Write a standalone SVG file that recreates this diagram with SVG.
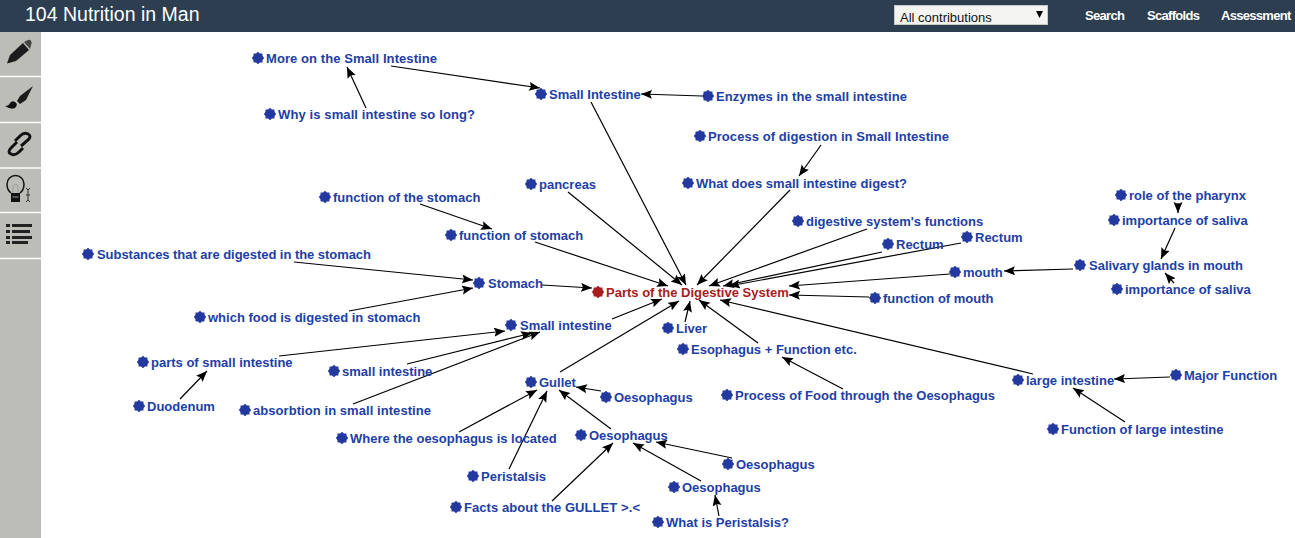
<svg xmlns="http://www.w3.org/2000/svg" width="1295" height="538" viewBox="0 0 1295 538">
<style>
text{font-family:"Liberation Sans",Arial,sans-serif}
.n{font-size:13px;font-weight:700;fill:#1d40a6}
.s{fill:#23399f}
.r .n{fill:#a81c20}.r .s{fill:#a81c20}
.e line{stroke:#000;stroke-width:1.2;marker-end:url(#a)}
.t{font-size:13px;font-weight:700;fill:#fff;letter-spacing:-.7px}
.sep{stroke:#fff;stroke-width:1.5}
.k{fill:#1c1c1c}
</style>
<defs>
<marker id="a" markerUnits="userSpaceOnUse" markerWidth="12" markerHeight="10" refX="11" refY="4.500" orient="auto"><path d="M0 0L11 4.500L0 9L2 4.500Z" fill="#000"/></marker>
<polygon id="b" points="0,-6.2 1.9,-4.6 4.4,-4.4 4.6,-1.9 6.2,0 4.6,1.9 4.4,4.4 1.9,4.6 0,6.2 -1.9,4.6 -4.4,4.4 -4.6,1.9 -6.2,0 -4.6,-1.9 -4.4,-4.4 -1.9,-4.6"/>
</defs>
<rect width="1295" height="538" fill="#fff"/>
<g id="header">
<rect width="1295" height="32" fill="#2c3e50"/>
<text x="25" y="21" font-size="19.500" fill="#fff">104 Nutrition in Man</text>
<rect x="894.500" y="5.500" width="153" height="19" fill="#f4f4f2" stroke="#c8c8c8"/>
<text x="900" y="22" font-size="13" fill="#111">All contributions</text>
<path d="M1036 11h7l-3.500 7z" fill="#000"/>
<text class="t" x="1085" y="20">Search</text>
<text class="t" x="1147" y="20">Scaffolds</text>
<text class="t" x="1221" y="20">Assessment</text>
</g>
<g id="sidebar">
<rect y="32" width="41" height="506" fill="#bdbdb7"/>
<line class="sep" x1="0" x2="41" y1="76.500" y2="76.500"/><line class="sep" x1="0" x2="41" y1="122.500" y2="122.500"/><line class="sep" x1="0" x2="41" y1="168" y2="168"/><line class="sep" x1="0" x2="41" y1="212.500" y2="212.500"/><line class="sep" x1="0" x2="41" y1="258.500" y2="258.500"/>
<path class="k" d="M7 63.500L10 55L23 43L29 50L16 61Z"/>
<path d="M24 42L28 40Q30 39 31 41Q32.500 43 31 45L30 49Z" fill="#444"/>
<path d="M33 86L26 100L20 104L17 101L20 96Z" fill="#1c1c1c"/>
<path d="M5 106Q9 106 10 103Q12 100 15 102Q18 104 16 107Q13 111 5 106Z" fill="#111"/>
<path d="M17 142L11 148Q7 152 11 154Q15 156 19 152L23 148M21 146L28 140Q32 136 28 134Q24 132 20 136L15 141" fill="none" stroke="#111" stroke-width="3"/>
<path d="M11 193Q7 190 7 184A8.500 8.500 0 0 1 24 184Q24 190 20 193" fill="none" stroke="#111" stroke-width="1.500"/>
<rect x="11" y="193" width="9" height="9" fill="#111"/>
<path d="M13 193L13 186L16 184L18 186L18 193M12.500 197H18.500" stroke="#999" stroke-width="1" fill="none"/>
<path d="M28 189V201M26 188L28 190L30 188M26 202L28 200L30 202M26 195H30" stroke="#333" stroke-width="1" fill="none"/>
<path d="M6 224h4v3H6zM12 224h20v3H12zM6 230h4v3H6zM12 230h18v3H12zM6 236h4v3H6zM12 236h20v3H12zM6 241h4v3H6zM12 241h16v3H12z" fill="#222"/>
</g>
<g id="connectors" class="e">
<line x1="391" y1="66" x2="540" y2="88"/>
<line x1="366" y1="108" x2="347" y2="67"/>
<line x1="702" y1="96" x2="641" y2="94"/>
<line x1="591" y1="102" x2="686" y2="285"/>
<line x1="821" y1="145" x2="799" y2="176"/>
<line x1="790" y1="190" x2="697" y2="285"/>
<line x1="568" y1="192" x2="682" y2="285"/>
<line x1="420" y1="204" x2="492" y2="229"/>
<line x1="535" y1="242" x2="668" y2="286"/>
<line x1="294" y1="262" x2="473" y2="280"/>
<line x1="349" y1="311" x2="473" y2="288"/>
<line x1="542" y1="285" x2="592" y2="288"/>
<line x1="612" y1="319" x2="662" y2="299"/>
<line x1="279" y1="356" x2="505" y2="331"/>
<line x1="180" y1="399" x2="207" y2="371"/>
<line x1="407" y1="364" x2="532" y2="333"/>
<line x1="353" y1="404" x2="540" y2="332"/>
<line x1="560" y1="372" x2="679" y2="301"/>
<line x1="685" y1="322" x2="690" y2="301"/>
<line x1="758" y1="343" x2="699" y2="300"/>
<line x1="843" y1="389" x2="782" y2="357"/>
<line x1="1033" y1="374" x2="720" y2="300"/>
<line x1="1170" y1="377" x2="1114" y2="379"/>
<line x1="1125" y1="422" x2="1073" y2="388"/>
<line x1="869" y1="297" x2="789" y2="295"/>
<line x1="950" y1="274" x2="789" y2="286"/>
<line x1="1073" y1="269" x2="1004" y2="271"/>
<line x1="1178" y1="203" x2="1178" y2="213"/>
<line x1="1175" y1="228" x2="1161" y2="259"/>
<line x1="1174" y1="283" x2="1165" y2="273"/>
<line x1="961" y1="243" x2="729" y2="286"/>
<line x1="882" y1="252" x2="723" y2="286"/>
<line x1="867" y1="229" x2="709" y2="286"/>
<line x1="601" y1="391" x2="576" y2="387"/>
<line x1="459" y1="432" x2="537" y2="390"/>
<line x1="509" y1="469" x2="547" y2="391"/>
<line x1="611" y1="429" x2="559" y2="390"/>
<line x1="552" y1="501" x2="613" y2="443"/>
<line x1="732" y1="458" x2="656" y2="442"/>
<line x1="701" y1="481" x2="633" y2="443"/>
<line x1="719" y1="516" x2="715" y2="495"/>
</g>
<g id="n1"><use class="s" href="#b" x="258" y="58"/><text class="n" x="266" y="63" textLength="171">More on the Small Intestine</text></g>
<g id="n2"><use class="s" href="#b" x="270" y="114"/><text class="n" x="278" y="119" textLength="197">Why is small intestine so long?</text></g>
<g id="n3"><use class="s" href="#b" x="541" y="94"/><text class="n" x="549" y="99">Small Intestine</text></g>
<g id="n4"><use class="s" href="#b" x="708" y="96"/><text class="n" x="716" y="101" textLength="191">Enzymes in the small intestine</text></g>
<g id="n5"><use class="s" href="#b" x="700" y="136"/><text class="n" x="708" y="141" textLength="241">Process of digestion in Small Intestine</text></g>
<g id="n6"><use class="s" href="#b" x="688" y="183"/><text class="n" x="696" y="188" textLength="211">What does small intestine digest?</text></g>
<g id="n7"><use class="s" href="#b" x="531" y="184"/><text class="n" x="539" y="189">pancreas</text></g>
<g id="n8"><use class="s" href="#b" x="325" y="197"/><text class="n" x="333" y="202">function of the stomach</text></g>
<g id="n9"><use class="s" href="#b" x="451" y="235"/><text class="n" x="459" y="240">function of stomach</text></g>
<g id="n10"><use class="s" href="#b" x="88" y="254"/><text class="n" x="97" y="259" textLength="274">Substances that are digested in the stomach</text></g>
<g id="n11"><use class="s" href="#b" x="479" y="283"/><text class="n" x="488" y="288">Stomach</text></g>
<g id="n12"><use class="s" href="#b" x="200" y="317"/><text class="n" x="208" y="322">which food is digested in stomach</text></g>
<g id="n13"><use class="s" href="#b" x="511" y="325"/><text class="n" x="520" y="330">Small intestine</text></g>
<g id="n14"><use class="s" href="#b" x="143" y="362"/><text class="n" x="151" y="367">parts of small intestine</text></g>
<g id="n15"><use class="s" href="#b" x="334" y="371"/><text class="n" x="342" y="376">small intestine</text></g>
<g id="n16"><use class="s" href="#b" x="139" y="406"/><text class="n" x="147" y="411">Duodenum</text></g>
<g id="n17"><use class="s" href="#b" x="245" y="410"/><text class="n" x="253" y="415" textLength="178">absorbtion in small intestine</text></g>
<g id="n18"><use class="s" href="#b" x="531" y="382"/><text class="n" x="539" y="387">Gullet</text></g>
<g id="n19"><use class="s" href="#b" x="606" y="397"/><text class="n" x="614" y="402">Oesophagus</text></g>
<g id="n20"><use class="s" href="#b" x="342" y="438"/><text class="n" x="350" y="443">Where the oesophagus is located</text></g>
<g id="n21"><use class="s" href="#b" x="581" y="435"/><text class="n" x="589" y="440">Oesophagus</text></g>
<g id="n22"><use class="s" href="#b" x="473" y="476"/><text class="n" x="481" y="481">Peristalsis</text></g>
<g id="n23"><use class="s" href="#b" x="456" y="507"/><text class="n" x="464" y="512" textLength="176">Facts about the GULLET &gt;.&lt;</text></g>
<g id="n24"><use class="s" href="#b" x="728" y="464"/><text class="n" x="736" y="469">Oesophagus</text></g>
<g id="n25"><use class="s" href="#b" x="674" y="487"/><text class="n" x="682" y="492">Oesophagus</text></g>
<g id="n26"><use class="s" href="#b" x="658" y="522"/><text class="n" x="666" y="527">What is Peristalsis?</text></g>
<g id="n27" class="r"><use class="s" href="#b" x="598" y="292"/><text class="n" x="606" y="297">Parts of the Digestive System</text></g>
<g id="n28"><use class="s" href="#b" x="668" y="328"/><text class="n" x="676" y="333">Liver</text></g>
<g id="n29"><use class="s" href="#b" x="683" y="349"/><text class="n" x="691" y="354">Esophagus + Function etc.</text></g>
<g id="n30"><use class="s" href="#b" x="727" y="395"/><text class="n" x="735" y="400">Process of Food through the Oesophagus</text></g>
<g id="n31"><use class="s" href="#b" x="1018" y="380"/><text class="n" x="1026" y="385">large intestine</text></g>
<g id="n32"><use class="s" href="#b" x="1176" y="375"/><text class="n" x="1184" y="380">Major Function</text></g>
<g id="n33"><use class="s" href="#b" x="1053" y="429"/><text class="n" x="1061" y="434">Function of large intestine</text></g>
<g id="n34"><use class="s" href="#b" x="875" y="298"/><text class="n" x="883" y="303">function of mouth</text></g>
<g id="n35"><use class="s" href="#b" x="955" y="272"/><text class="n" x="963" y="277">mouth</text></g>
<g id="n36"><use class="s" href="#b" x="1080" y="265"/><text class="n" x="1089" y="270">Salivary glands in mouth</text></g>
<g id="n37"><use class="s" href="#b" x="1117" y="289"/><text class="n" x="1125" y="294">importance of saliva</text></g>
<g id="n38"><use class="s" href="#b" x="1114" y="220"/><text class="n" x="1122" y="225">importance of saliva</text></g>
<g id="n39"><use class="s" href="#b" x="1121" y="195"/><text class="n" x="1129" y="200">role of the pharynx</text></g>
<g id="n40"><use class="s" href="#b" x="967" y="237"/><text class="n" x="975" y="242">Rectum</text></g>
<g id="n41"><use class="s" href="#b" x="888" y="244"/><text class="n" x="896" y="249">Rectum</text></g>
<g id="n42"><use class="s" href="#b" x="798" y="221"/><text class="n" x="806" y="226">digestive system's functions</text></g>
</svg>
